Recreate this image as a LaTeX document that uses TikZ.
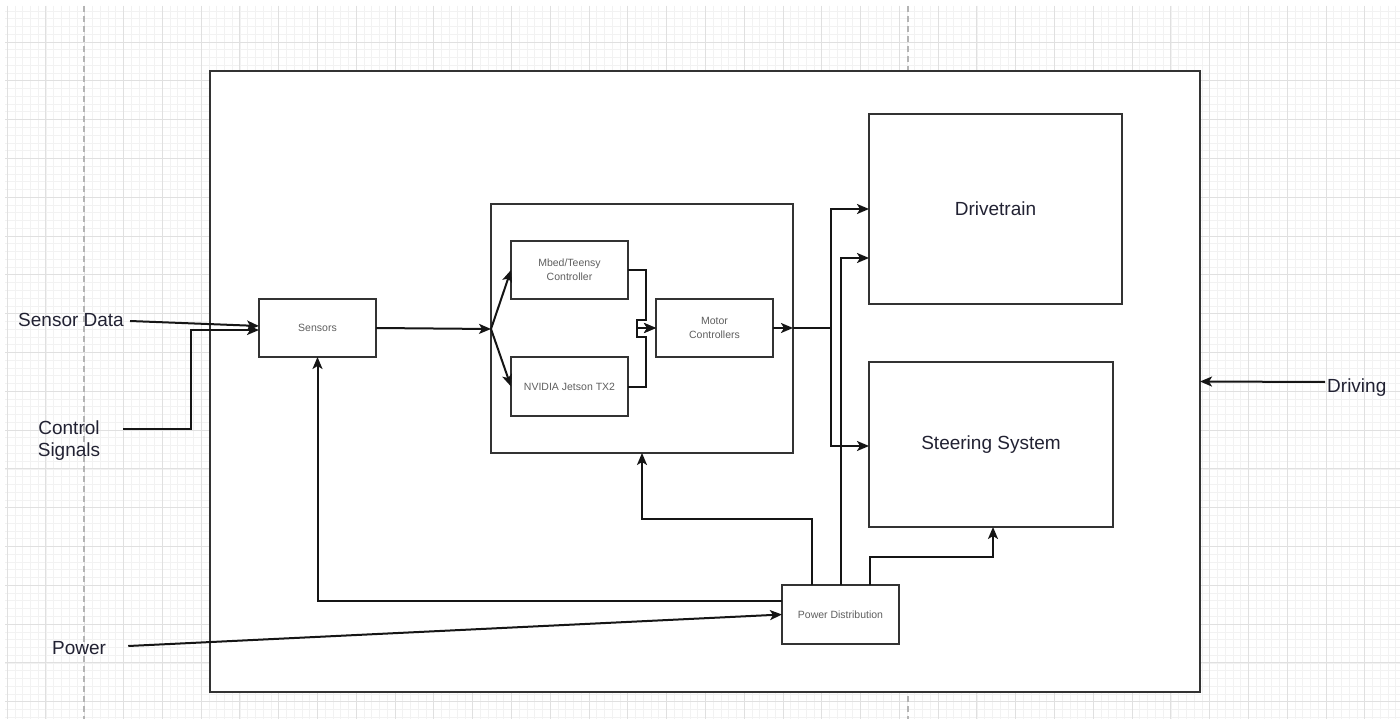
\documentclass[tikz,border=0pt]{standalone}
\usepackage{fontspec}
\setmainfont{Liberation Sans}
\usetikzlibrary{arrows.meta}
\definecolor{minorg}{HTML}{F2F2F2}
\definecolor{majorg}{HTML}{E0E0E0}
\definecolor{pagebr}{HTML}{B4B4B4}
\definecolor{boxc}{HTML}{333333}
\definecolor{linec}{HTML}{151515}
\definecolor{smalltxt}{HTML}{5F5F5F}
\definecolor{bigtxt}{HTML}{222233}
\tikzset{
  blk/.style={draw=boxc, line width=2.2pt, fill=white, inner sep=0pt, outer sep=0pt},
  smallbox/.style={blk, minimum width=117pt, minimum height=58pt, text=smalltxt, font=\fontsize{10.5}{14}\selectfont, align=center},
  bigbox/.style={blk, text=bigtxt, font=\fontsize{19}{22}\selectfont},
  lbl/.style={text=bigtxt, font=\fontsize{19}{22}\selectfont, inner sep=0pt, align=center},
  conn/.style={draw=linec, line width=2pt},
  arr/.style={conn, -{Stealth[length=12pt,width=10pt,inset=3pt]}},
}
\begin{document}
\begin{tikzpicture}[x=1pt,y=-1pt]
\useasboundingbox (0,0) rectangle (1400,719);
\fill[white] (0,0) rectangle (1400,719);
% grid
\foreach \i in {0,...,179}{
  \pgfmathsetmacro\xx{7.2+\i*7.758}
  \draw[minorg, line width=0.8pt] (\xx,6) -- (\xx,719);
}
\foreach \i in {1,...,92}{
  \pgfmathsetmacro\yy{3.2+\i*7.762}
  \draw[minorg, line width=0.8pt] (5,\yy) -- (1400,\yy);
}
\foreach \i in {0,...,35}{
  \pgfmathsetmacro\xx{7.2+\i*38.79}
  \draw[majorg, line width=1pt] (\xx,6) -- (\xx,719);
}
\foreach \i in {1,...,18}{
  \pgfmathsetmacro\yy{3.2+\i*38.81}
  \draw[majorg, line width=1pt] (5,\yy) -- (1400,\yy);
}
\draw[pagebr, line width=1.2pt, dash pattern=on 6pt off 4pt] (84,6) -- (84,719);
\draw[pagebr, line width=1.2pt, dash pattern=on 6pt off 4pt] (908,6) -- (908,719);

% boxes
\node[blk, minimum width=990pt, minimum height=621pt] (outer) at (705,381.5) {};
\node[blk, minimum width=302pt, minimum height=249pt] (inner) at (642,328.5) {};
\node[smallbox] (mbed) at (569.5,270) {Mbed/Teensy\\Controller};
\node[smallbox, minimum height=59pt] (nvidia) at (569.5,386.5) {NVIDIA Jetson TX2};
\node[smallbox] (motor) at (714.5,328) {Motor\\Controllers};
\node[smallbox] (sensors) at (317.5,328) {Sensors};
\node[bigbox, minimum width=253pt, minimum height=190pt] (drive) at (995.5,209) {Drivetrain};
\node[bigbox, minimum width=244pt, minimum height=165pt] (steer) at (991,444.5) {Steering System};
\node[smallbox, minimum height=59pt] (pd) at (840.5,614.5) {Power Distribution};

% outside labels
\node[lbl, anchor=west] (sd) at (18,320) {Sensor Data};
\node[lbl] (cs) at (69,441) {Control\\Signals};
\node[lbl, anchor=west] (pw) at (52,648) {Power};
\node[lbl, anchor=west] (dr) at (1327,388) {Driving};

% bend coordinates
\coordinate (csout) at (123,429);
\coordinate (csb1) at (191,429);
\coordinate (csb2) at (191,330);
\coordinate (split) at (491,329);
\coordinate (mb1) at (646,320);
\coordinate (mb2) at (637,320);
\coordinate (nv1) at (646,337);
\coordinate (nv2) at (637,337);
\coordinate (bus) at (831,328);
\coordinate (pdb1) at (642,519);
\coordinate (pdb2) at (993,557);

% connectors
\draw[arr] ([xshift=6pt,yshift=-1pt]sd.east) -- ([yshift=2pt]sensors.west);
\draw[arr] (csout) -- (csb1) -- (csb2) -- ([yshift=-2pt]sensors.west);
\draw[arr] (sensors.east) -- (split);
\draw[arr] (split) -- (mbed.west);
\draw[arr] (split) -- (nvidia.west);
\draw[arr] (mbed.east) -| (mb1) -- (mb2) |- (motor.west);
\draw[arr] (nvidia.east) -| (nv1) -- (nv2) |- (motor.west);
\draw[arr] (motor.east) -- (inner.east |- motor.east);
\draw[conn] (inner.east |- motor.east) -- (bus);
\draw[arr] (bus) |- (drive.west);
\draw[arr] (bus) |- ([yshift=-1.5pt]steer.west);
\draw[arr] ([xshift=-28.5pt]pd.north) |- (pdb1) -- (inner.south);
\draw[arr] (pd.north) |- ([yshift=-49pt]drive.west);
\draw[arr] ([xshift=29.5pt]pd.north) |- (pdb2) -- ([xshift=2pt]steer.south);
\draw[arr] ([yshift=13.5pt]pd.west) -| (sensors.south);
\draw[arr] ([xshift=22pt,yshift=2pt]pw.east) -- (pd.west);
\draw[arr] ([xshift=-2pt,yshift=6pt]dr.west) -- (outer.east);
\end{tikzpicture}
\end{document}
